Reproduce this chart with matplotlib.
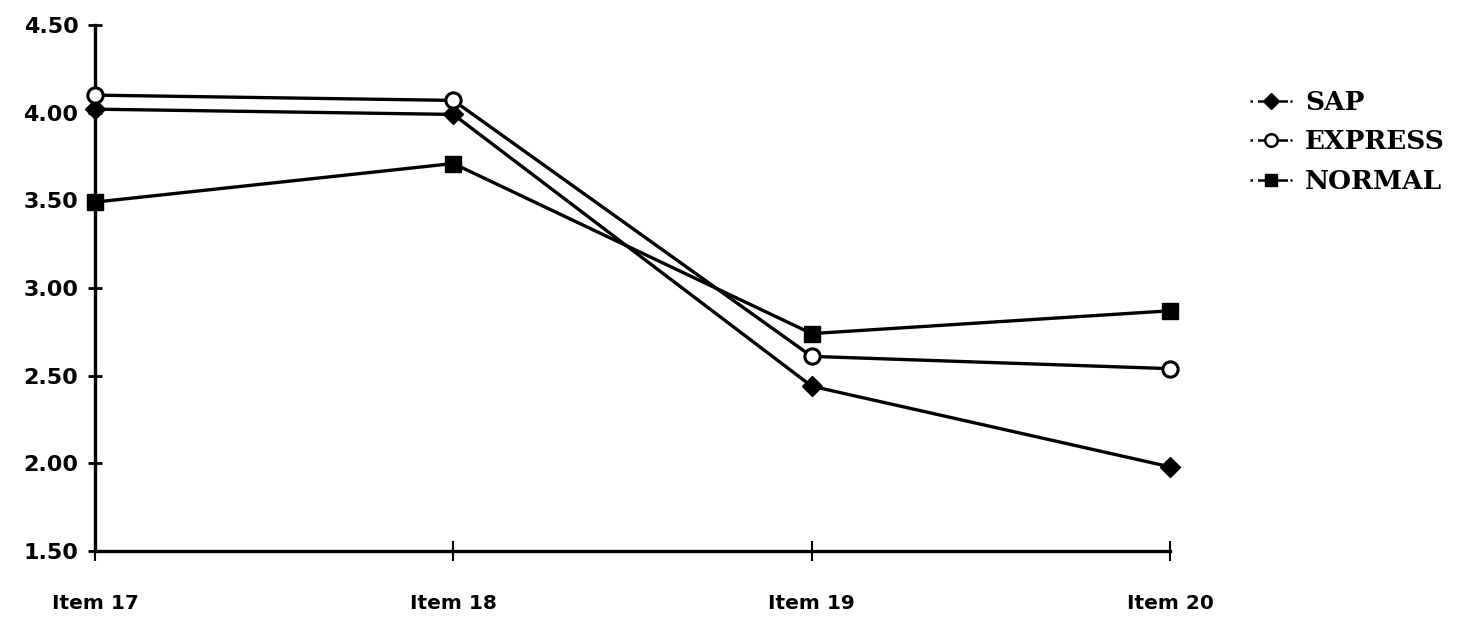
import matplotlib
matplotlib.use("Agg")
import matplotlib.pyplot as plt
from matplotlib.lines import Line2D

categories = ["Item 17", "Item 18", "Item 19", "Item 20"]
sap = [4.02, 3.99, 2.44, 1.98]
express = [4.10, 4.07, 2.61, 2.54]
normal = [3.49, 3.71, 2.74, 2.87]
yticks = [1.50, 2.00, 2.50, 3.00, 3.50, 4.00, 4.50]
series_names = ["SAP", "EXPRESS", "NORMAL"]

fig = plt.figure(figsize=(14.77, 6.22), dpi=100)
ax = fig.add_axes([95/1477, 1-551/622, (1170-95)/1477, (551-25)/622])

x = list(range(len(categories)))
lw = 2.4
ax.plot(x, sap, color="black", lw=lw, marker="D", ms=10, mfc="black", mec="black", clip_on=False, zorder=3)
ax.plot(x, express, color="black", lw=lw, marker="o", ms=11, mfc="white", mec="black", mew=2.2, clip_on=False, zorder=4)
ax.plot(x, normal, color="black", lw=lw, marker="s", ms=11, mfc="black", mec="black", clip_on=False, zorder=3)

ax.set_xlim(0, 3)
ax.set_ylim(1.5, 4.5)
ax.set_yticks(yticks)
ax.set_yticklabels([f"{v:.2f}" for v in yticks], fontsize=16, fontweight="bold", family="DejaVu Sans")
ax.set_xticks(x)
ax.set_xticklabels(categories, fontsize=14.5, fontweight="bold", family="DejaVu Sans")

for s in ["top", "right"]:
    ax.spines[s].set_visible(False)
for s in ["left", "bottom"]:
    ax.spines[s].set_linewidth(2.4)
ax.tick_params(axis="y", direction="inout", length=10, width=2, pad=7)
ax.tick_params(axis="x", direction="inout", length=14, width=1.5, pad=24)

handles = [
    Line2D([], [], color="black", lw=1.8, ls=(0, (1, 2, 4, 1)), marker="D", ms=8, mfc="black"),
    Line2D([], [], color="black", lw=1.8, ls=(0, (1, 2, 4, 1)), marker="o", ms=9, mfc="white", mew=1.8),
    Line2D([], [], color="black", lw=1.8, ls=(0, (1, 2, 4, 1)), marker="s", ms=9, mfc="black"),
]
fig.legend(handles, series_names, loc="upper left", bbox_to_anchor=(1226/1477, 1-66/622),
           frameon=False, handlelength=1.6, handletextpad=0.5, labelspacing=0.55,
           prop={"family": "DejaVu Serif", "weight": "bold", "size": 19})

fig.savefig("out.png", dpi=100, facecolor="white")
